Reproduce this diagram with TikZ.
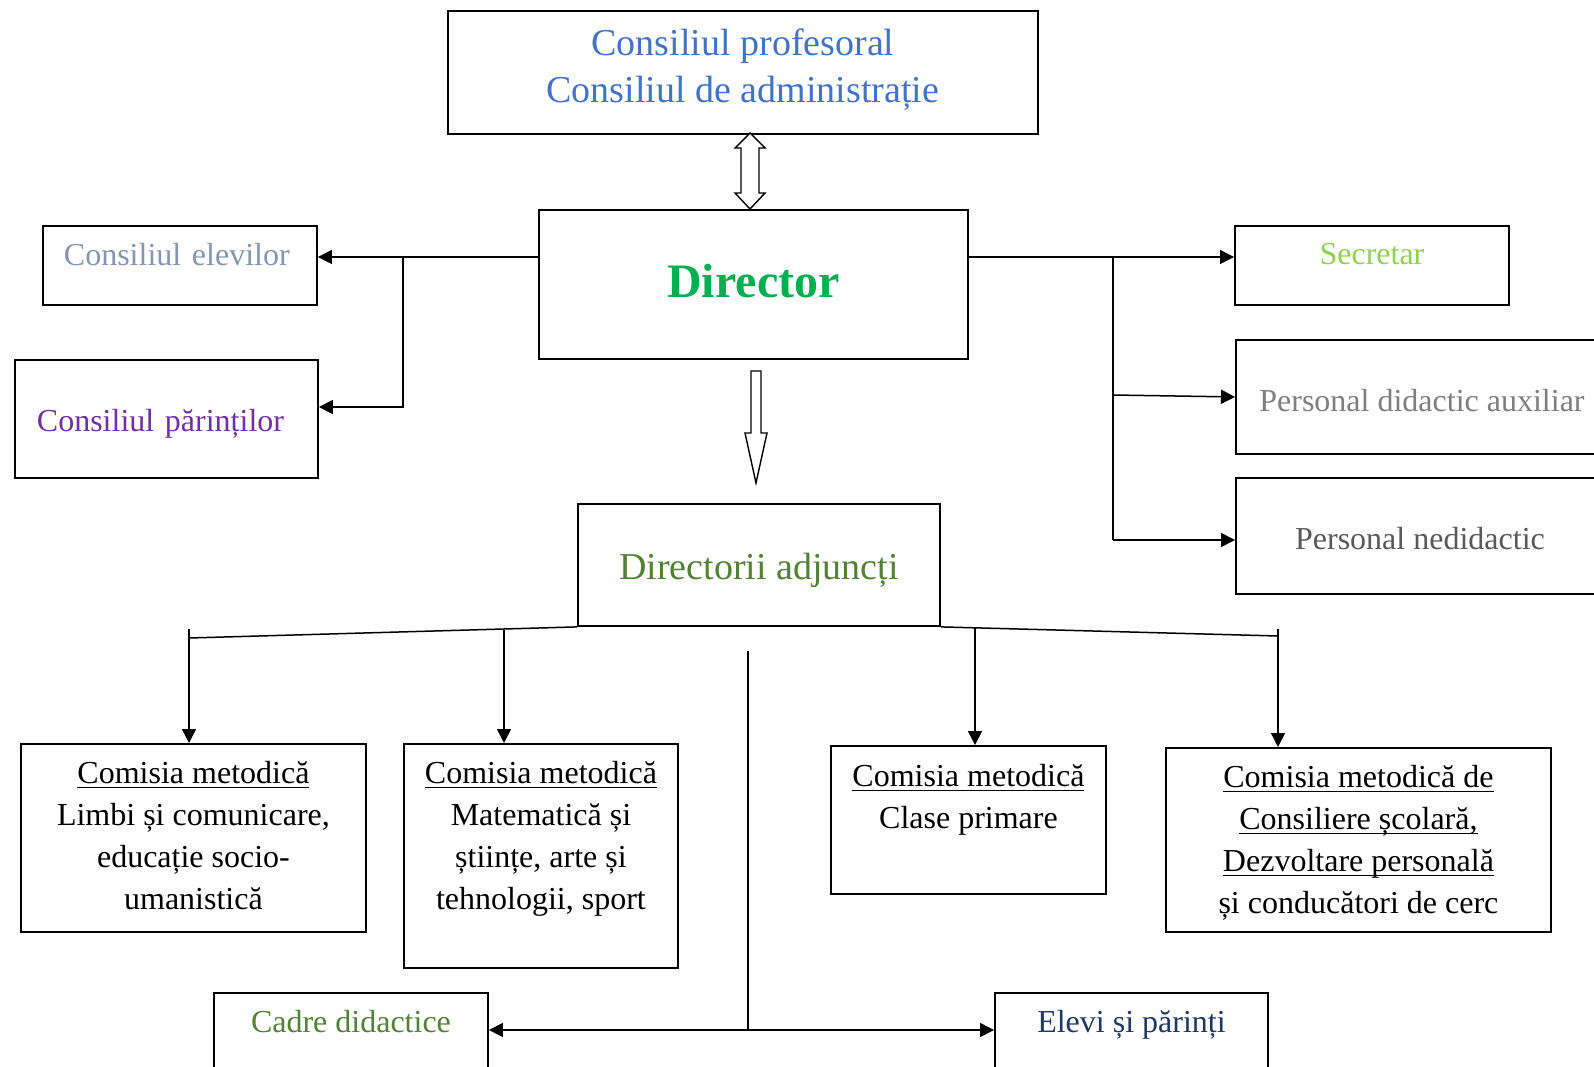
\documentclass[tikz,border=0pt]{standalone}
\usepackage{fontspec}
\setmainfont{Liberation Serif}
\usetikzlibrary{arrows.meta}

\definecolor{topblue}{HTML}{4472C4}
\definecolor{elevcol}{HTML}{8496B0}
\definecolor{parcol}{HTML}{7030A0}
\definecolor{dircol}{HTML}{00B050}
\definecolor{seccol}{HTML}{92D050}
\definecolor{auxcol}{HTML}{7F7F7F}
\definecolor{nedcol}{HTML}{595959}
\definecolor{adjcol}{HTML}{538135}
\definecolor{elevicol}{HTML}{1F3864}

\newsavebox\undlbox
\newcommand\undl[1]{\sbox\undlbox{#1}\rlap{\rule[-4.5pt]{\wd\undlbox}{1.4pt}}\usebox\undlbox}

\begin{document}
\begin{tikzpicture}[x=1pt,y=-1pt]
	\tikzstyle{box}=[draw,line width=1.9pt,inner sep=0pt,anchor=north west,align=center]
	\tikzstyle{txt}=[font=\fontsize{32}{42}\selectfont]
	\tikzstyle{conn}=[line width=1.5pt]
	\tikzstyle{arr}=[conn,-{Triangle[length=14pt,width=14pt]}]

	\useasboundingbox (0,0) rectangle (1594,1067);
	\fill[white] (0,0) rectangle (1594,1067);
	\clip (0,0) rectangle (1594,1067);

	\node[box,minimum width=590pt,text height=92pt,text depth=31pt,font=\fontsize{38}{47}\selectfont,text=topblue](cons) at (447,10){Consiliul profesoral\\Consiliul de administrație};
	\node[box,minimum width=429pt,text height=88pt,text depth=61pt,font=\fontsize{48}{56}\selectfont\bfseries,text=dircol](dir) at (538,209){Director};

	\node[box,txt,align=left,inner xsep=21pt,text width=232pt,text height=40pt,text depth=39pt,text=elevcol](elev) at (42,225){Consiliul elevilor};
	\node[box,txt,align=left,inner xsep=22pt,text width=259pt,text height=72pt,text depth=46pt,text=parcol](par) at (14,359){Consiliul părinților};

	\node[box,txt,minimum width=274pt,text height=39pt,text depth=40pt,text=seccol](sec) at (1234,225){Secretar};
	\node[box,txt,minimum width=372pt,text height=72pt,text depth=42pt,text=auxcol](aux) at (1235,339){Personal didactic auxiliar};
	\node[box,txt,minimum width=368pt,text height=72pt,text depth=44pt,text=nedcol](ned) at (1235,477){Personal nedidactic};

	\node[box,minimum width=362pt,text height=76pt,text depth=46pt,font=\fontsize{38}{47}\selectfont,text=adjcol](adj) at (577,503){Directorii adjuncți};

	\node[box,txt,minimum width=345pt,text height=166pt,text depth=22pt](com1) at (20,743){\undl{Comisia metodică}\\Limbi și comunicare,\\educație socio-\\umanistică};
	\node[box,txt,minimum width=274pt,text height=166pt,text depth=58pt](com2) at (403,743){\undl{Comisia metodică}\\Matematică și\\științe, arte și\\tehnologii, sport};
	\node[box,txt,minimum width=275pt,text height=83pt,text depth=65pt](com3) at (830,745){\undl{Comisia metodică}\\Clase primare};
	\node[box,txt,minimum width=385pt,text height=166pt,text depth=18pt](com4) at (1165,747){\undl{Comisia metodică de}\\\undl{Consiliere școlară,}\\\undl{Dezvoltare personală}\\și conducători de cerc};

	\node[box,txt,minimum width=274pt,text height=40pt,text depth=60pt,text=adjcol](cad) at (213,992){Cadre didactice};
	\node[box,txt,minimum width=273pt,text height=40pt,text depth=60pt,text=elevicol](elv) at (994,992){Elevi și părinți};

	\draw[line width=1.4pt,fill=white] (750,133) -- (765,148) -- (759,148) -- (759,193) -- (765,193) -- (750,209) -- (735,193) -- (741,193) -- (741,148) -- (735,148) -- cycle;
	\draw[line width=1.4pt,fill=white] (751,371) -- (761,371) -- (761,433) -- (767,433) -- (756,483) -- (745,433) -- (751,433) -- cycle;

	\coordinate (jl) at (403,257);
	\coordinate (jl2) at (403,407);
	\draw[conn] (dir.west |- jl) -- (jl);
	\draw[arr] (jl) -- (elev.east |- jl);
	\draw[arr] (jl) -- (jl2) -- (par.east |- jl2);

	\coordinate (jr) at (1113,257);
	\coordinate (jr2) at (1113,395);
	\coordinate (jr3) at (1113,540);
	\draw[arr] (dir.east |- jr) -- (sec.west |- jr);
	\draw[conn] (jr) -- (jr3);
	\draw[arr] (jr2) -- (aux.west);
	\draw[arr] (jr3) -- (ned.west |- jr3);

	\coordinate (bl) at (189,638);
	\coordinate (br) at (1278,636);
	\draw[conn] (adj.south west) -- (bl);
	\draw[conn] (adj.south east) -- (br);
	\coordinate (b1) at (189,629);
	\coordinate (b2) at (504,630);
	\coordinate (b3) at (975,627);
	\coordinate (b4) at (1278,629);
	\draw[arr] (b1) -- (b1 |- com1.north);
	\draw[arr] (b2) -- (b2 |- com2.north);
	\draw[arr] (b3) -- (b3 |- com3.north);
	\draw[arr] (b4) -- (b4 |- com4.north);

	\coordinate (jt) at (748,651);
	\coordinate (jb) at (748,1030);
	\draw[conn] (jt) -- (jb);
	\draw[arr] (jb) -- (cad.east |- jb);
	\draw[arr] (jb) -- (elv.west |- jb);
\end{tikzpicture}
\end{document}
